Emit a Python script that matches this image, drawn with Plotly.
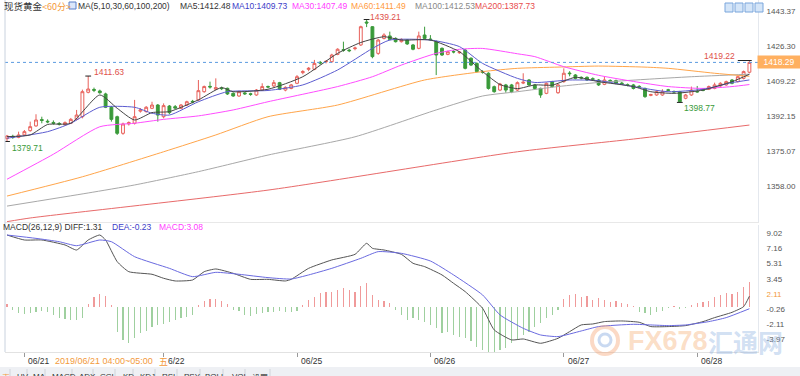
import plotly.graph_objects as go

W, H = 800, 376

# ---------------- data ----------------
idx = list(range(129))
ohlc = [
    (1381.1, 1382.9, 1379.71, 1382.4), (1382.2, 1383.0, 1381.0, 1381.8), (1381.75, 1384.5, 1381.3, 1382.9),
    (1382.9, 1385.3, 1382.4, 1384.5), (1385.0, 1389.4, 1384.5, 1386.95), (1387.3, 1393.0, 1386.9, 1390.2),
    (1390.4, 1391.8, 1388.6, 1390.0), (1389.6, 1390.5, 1388.6, 1389.3), (1389.0, 1390.0, 1388.0, 1388.6),
    (1388.5, 1389.2, 1387.5, 1388.2), (1387.9, 1389.5, 1387.5, 1388.9), (1388.6, 1391.2, 1388.2, 1390.5),
    (1390.5, 1395.1, 1390.0, 1392.6), (1391.8, 1405.0, 1391.0, 1404.0), (1403.7, 1411.63, 1403.2, 1405.3),
    (1405.1, 1406.0, 1403.8, 1404.7), (1404.35, 1405.0, 1403.0, 1403.5), (1402.9, 1403.5, 1396.0, 1396.4),
    (1396.4, 1397.0, 1389.4, 1390.5), (1391.8, 1392.3, 1382.9, 1383.7), (1383.7, 1388.9, 1383.0, 1388.25),
    (1388.3, 1389.5, 1387.5, 1388.9), (1388.6, 1400.0, 1388.0, 1391.8), (1394.5, 1396.0, 1393.8, 1395.1),
    (1394.3, 1397.0, 1393.8, 1396.4), (1395.9, 1399.1, 1395.5, 1397.5), (1397.5, 1398.0, 1389.4, 1392.6),
    (1391.8, 1398.3, 1391.0, 1397.2), (1397.0, 1397.5, 1393.0, 1393.8), (1396.7, 1397.5, 1395.5, 1396.0),
    (1395.9, 1398.0, 1395.5, 1397.5), (1397.5, 1399.6, 1397.0, 1399.1), (1399.3, 1400.0, 1398.3, 1399.0),
    (1400.0, 1409.7, 1399.5, 1404.5), (1404.0, 1407.0, 1403.5, 1406.5), (1406.6, 1408.9, 1405.5, 1406.3),
    (1405.2, 1410.5, 1404.8, 1406.0), (1405.8, 1406.5, 1404.8, 1405.5), (1405.65, 1406.0, 1402.4, 1402.9),
    (1403.2, 1403.7, 1401.5, 1401.9), (1401.9, 1404.5, 1401.5, 1404.0), (1403.4, 1404.0, 1402.4, 1403.0),
    (1403.0, 1403.5, 1402.0, 1402.7), (1402.4, 1405.3, 1402.0, 1404.8), (1404.8, 1408.1, 1404.5, 1406.5),
    (1406.5, 1407.0, 1405.8, 1406.3), (1406.8, 1409.7, 1406.3, 1408.4), (1408.4, 1408.8, 1404.8, 1405.2),
    (1404.8, 1406.6, 1404.2, 1406.1), (1405.6, 1407.8, 1405.2, 1407.3), (1408.1, 1412.1, 1407.7, 1411.3),
    (1413.3, 1414.5, 1412.5, 1413.8), (1414.9, 1416.0, 1414.0, 1415.4), (1414.9, 1419.5, 1414.5, 1417.8),
    (1418.3, 1419.0, 1417.2, 1418.0), (1418.6, 1419.3, 1417.8, 1418.8), (1418.65, 1422.5, 1418.0, 1421.9),
    (1422.2, 1425.2, 1421.8, 1424.7), (1424.5, 1428.4, 1423.5, 1424.2), (1424.3, 1425.0, 1423.3, 1424.0),
    (1425.0, 1426.0, 1424.2, 1425.3), (1426.8, 1436.2, 1426.3, 1435.7), (1438.0, 1439.21, 1435.5, 1437.5),
    (1435.7, 1436.0, 1420.3, 1421.1), (1422.7, 1429.7, 1422.0, 1429.2), (1430.0, 1432.5, 1429.5, 1431.65),
    (1431.2, 1433.3, 1429.0, 1429.5), (1430.0, 1430.5, 1428.0, 1428.4), (1428.4, 1430.0, 1428.0, 1429.5),
    (1429.2, 1429.7, 1426.8, 1427.3), (1426.8, 1427.3, 1424.2, 1424.7), (1425.15, 1433.3, 1424.7, 1431.2),
    (1431.65, 1435.7, 1429.5, 1430.0), (1429.7, 1431.6, 1428.8, 1429.4), (1428.4, 1429.0, 1412.1, 1421.9),
    (1425.15, 1425.6, 1421.4, 1421.9), (1422.2, 1424.0, 1421.8, 1423.5), (1423.6, 1424.3, 1422.7, 1423.4),
    (1423.0, 1423.8, 1422.5, 1423.3), (1424.3, 1424.8, 1414.9, 1415.4), (1420.3, 1420.8, 1416.5, 1417.0),
    (1417.8, 1418.3, 1413.3, 1413.8), (1413.8, 1414.5, 1412.8, 1413.5), (1413.0, 1413.5, 1405.0, 1405.6),
    (1406.45, 1407.0, 1403.5, 1404.0), (1404.8, 1408.3, 1404.3, 1407.75), (1407.3, 1407.8, 1403.5, 1404.8),
    (1407.3, 1407.8, 1403.3, 1404.0), (1404.8, 1409.0, 1404.3, 1408.4), (1408.2, 1413.0, 1407.7, 1408.6),
    (1409.7, 1410.2, 1406.8, 1407.3), (1407.3, 1407.8, 1405.2, 1405.6), (1405.6, 1406.0, 1401.0, 1402.4),
    (1403.2, 1408.5, 1402.8, 1408.1), (1408.9, 1409.3, 1406.0, 1406.5), (1403.5, 1407.8, 1403.0, 1407.3),
    (1408.9, 1415.4, 1408.4, 1413.0), (1413.1, 1414.0, 1411.5, 1412.8), (1412.15, 1412.6, 1410.0, 1410.5),
    (1411.0, 1411.5, 1410.0, 1410.7), (1411.0, 1411.5, 1409.2, 1409.7), (1410.3, 1411.0, 1409.5, 1410.1),
    (1409.7, 1410.2, 1406.8, 1407.3), (1407.6, 1411.3, 1407.2, 1409.7), (1409.5, 1410.0, 1408.5, 1409.2),
    (1409.4, 1409.9, 1407.6, 1408.1), (1408.2, 1408.8, 1407.3, 1407.9), (1407.4, 1408.0, 1406.6, 1407.1),
    (1407.3, 1407.8, 1405.1, 1405.6), (1406.6, 1407.2, 1405.8, 1406.3), (1405.6, 1406.0, 1401.0, 1401.6),
    (1402.2, 1403.0, 1401.8, 1402.6), (1402.4, 1404.5, 1402.0, 1404.0), (1402.4, 1405.2, 1402.0, 1404.0),
    (1404.9, 1405.4, 1404.2, 1404.7), (1404.1, 1404.6, 1403.4, 1403.9), (1404.0, 1404.4, 1398.77, 1399.1),
    (1400.8, 1402.9, 1400.3, 1402.4), (1402.4, 1406.5, 1402.0, 1404.8), (1404.1, 1406.8, 1403.5, 1403.9),
    (1404.9, 1405.6, 1404.2, 1404.7), (1405.15, 1407.0, 1404.8, 1406.5), (1405.6, 1408.4, 1405.2, 1407.3),
    (1406.8, 1408.6, 1406.4, 1408.1), (1407.3, 1409.4, 1406.9, 1408.9), (1409.7, 1410.2, 1407.6, 1408.1),
    (1408.9, 1411.8, 1408.5, 1411.3), (1410.5, 1414.3, 1410.0, 1413.8), (1413.5, 1419.22, 1413.0, 1418.29),
]
opens = [r[0] for r in ohlc]
highs = [r[1] for r in ohlc]
lows = [r[2] for r in ohlc]
closes = [r[3] for r in ohlc]

ma5_x = [0, 4, 7, 11, 16, 19, 22, 25, 28, 33, 37, 39, 45, 51, 57, 61, 65, 68, 73, 78, 82, 85, 88, 91, 94, 98, 102, 108, 111, 115, 120, 125, 128]
ma5_y = [1382.1, 1382.9, 1388.0, 1388.6, 1402.4, 1395.9, 1390.2, 1393.8, 1394.3, 1400.0, 1406.0, 1404.0, 1405.2, 1411.3,
         1422.7, 1428.0, 1430.8, 1429.2, 1429.2, 1423.5, 1413.8, 1407.5, 1405.5, 1407.3, 1407.2, 1411.0, 1408.9, 1406.5,
         1404.0, 1403.2, 1404.8, 1408.9, 1412.48]
ma10_x = [0, 7, 11, 16, 22, 25, 28, 33, 38, 45, 51, 57, 63, 66, 73, 78, 82, 88, 91, 97, 102, 108, 114, 120, 125, 128]
ma10_y = [1381.3, 1384.5, 1388.6, 1396.4, 1396.4, 1393.5, 1392.6, 1399.1, 1404.0, 1404.6, 1407.3, 1414.6, 1425.1, 1429.2,
          1429.2, 1426.0, 1417.8, 1410.5, 1408.5, 1409.7, 1409.4, 1406.5, 1404.0, 1405.2, 1408.4, 1409.73]
ma30_x = [0, 8, 16, 22, 27, 33, 39, 45, 57, 63, 68, 74, 78, 82, 88, 91, 96, 102, 108, 114, 120, 125, 128]
ma30_y = [1361.3, 1373.5, 1386.9, 1388.6, 1390.5, 1392.2, 1395.1, 1399.1, 1406.5, 1411.3, 1417.0, 1422.7, 1424.7, 1425.1,
          1422.5, 1421.1, 1416.2, 1412.0, 1409.0, 1406.5, 1405.6, 1406.5, 1407.49]
ma60_x = [0, 13, 27, 36, 45, 57, 72, 82, 88, 95, 102, 110, 114, 122, 128]
ma60_y = [1353.1, 1362.5, 1374.7, 1382.9, 1391.8, 1397.5, 1409.7, 1413.8, 1415.4, 1416.0, 1416.5, 1416.0, 1415.4, 1413.0, 1411.49]
ma100_x = [0, 14, 22, 33, 45, 60, 74, 82, 88, 95, 102, 110, 118, 128]
ma100_y = [1348.2, 1354.6, 1358.5, 1365.0, 1373.1, 1382.0, 1395.1, 1401.9, 1404.0, 1406.5, 1408.5, 1410.0, 1411.3, 1412.53]
ma200_x = [0, 4, 45, 88, 108, 128]
ma200_y = [1340.6, 1342.4, 1356.0, 1374.7, 1380.9, 1387.73]

diff_x = [0, 3, 6, 10, 12, 14, 16, 17, 19, 21, 25, 27, 29, 32, 34, 36, 39, 42, 45, 48, 49, 52, 56, 60, 62, 63, 65, 68,
          70, 72, 75, 77, 79, 82, 84, 87, 89, 92, 95, 97, 99, 101, 103, 106, 109, 111, 114, 117, 120, 122, 125, 127, 128]
diff_y = [8.82, 8.21, 8.21, 7.60, 6.98, 8.21, 8.82, 8.21, 5.55, 4.32, 4.0, 3.51, 3.18, 3.30, 4.32, 4.65, 4.12, 3.38,
          3.38, 3.18, 3.38, 4.73, 5.76, 6.45, 7.8, 7.19, 6.98, 6.45, 5.35, 4.94, 3.92, 2.89, 1.87, -0.18, -2.83, -4.06,
          -3.94, -4.47, -3.86, -3.04, -2.22, -2.10, -1.81, -1.73, -1.89, -2.42, -2.42, -2.30, -1.81, -1.32, -0.67, 0.03, 1.31]
dea_x = [0, 5, 9, 12, 16, 18, 22, 28, 32, 36, 40, 45, 49, 52, 56, 61, 64, 68, 73, 77, 82, 85, 89, 92, 95, 99, 102, 108,
         111, 114, 117, 121, 124, 128]
dea_y = [8.82, 8.41, 8.0, 7.51, 8.21, 8.0, 6.16, 4.73, 3.71, 4.24, 4.0, 3.59, 3.42, 3.92, 4.73, 5.96, 6.78, 6.57, 5.63,
         3.92, 1.46, -0.99, -2.63, -3.45, -3.65, -2.96, -2.42, -2.14, -2.22, -2.30, -2.22, -1.81, -1.32, -0.23]
macd_hist = [0.37, -0.37, -0.78, -0.90, -0.78, -0.65, -0.49, -0.65, -0.98, -1.31, -1.47, -1.60, -1.60, -1.39, 0.33,
             1.27, 1.55, 1.35, 0.25, -3.03, -4.05, -4.46, -3.84, -3.23, -2.94, -2.41, -2.21, -2.13, -1.88, -1.60,
             -1.39, -1.19, -0.98, 0.25, 0.74, 0.98, 0.98, 0.74, 0.33, -0.37, -0.49, -0.98, -1.06, -0.90, -0.78,
             -0.65, -0.65, -0.49, -0.57, -0.65, -0.49, 0.25, 0.86, 1.27, 1.68, 1.80, 1.88, 2.09, 2.29, 2.09, 1.88,
             2.62, 2.90, 1.47, 0.86, 0.74, 0.45, -0.37, -0.98, -1.60, -1.39, -1.60, -1.80, -2.21, -2.62, -3.23,
             -3.03, -3.44, -3.64, -3.84, -4.25, -4.87, -5.28, -5.69, -5.89, -5.28, -5.07, -4.46, -4.05, -3.44,
             -3.03, -2.41, -2.00, -1.39, -0.98, -0.37, 0.98, 1.47, 1.55, 1.27, 1.39, 0.86, 1.06, 0.86, 0.65, 0.74,
             0.45, 0.33, 0.16, -0.57, -0.78, -0.98, -0.65, -0.49, -0.16, 0.12, -0.25, -0.16, 0.25, 0.45, 0.65,
             0.74, 1.27, 1.47, 1.68, 1.55, 1.88, 2.49, 3.08]

day_ticks = [3, 27, 50, 73, 96, 119]
day_labels = ["06/21", "6/22", "06/25", "06/26", "06/27", "06/28"]
price_ticks = [1443.37, 1426.30, 1409.22, 1392.15, 1375.07, 1358.00]
macd_ticks = [9.02, 7.16, 5.31, 3.45, 1.60, -0.26, -2.11, -3.97]
macd_labels = ["9.02", "7.16", "5.31", "3.45", "<span style='color:#f39a3c'>2.11</span>", "-0.26", "-2.11", "-3.97"]
last_price = 1418.29
high_marks = [14, 62, 128]
low_marks = [0, 116]

# ---------------- helpers ----------------
def px(x):
    return x / W

def py(y):
    return 1 - y / H

SANS = "Liberation Sans, Arial, sans-serif"
CJK = "Noto Sans CJK SC, sans-serif"
RED = "#e8605a"
GREEN = "#3a9a3a"

fig = go.Figure()

fig.add_trace(go.Candlestick(
    x=idx, open=opens, high=highs, low=lows, close=closes,
    increasing=dict(line=dict(color=RED, width=1), fillcolor="#ffffff"),
    decreasing=dict(line=dict(color=GREEN, width=1), fillcolor=GREEN),
    whiskerwidth=0, xaxis="x", yaxis="y", hoverinfo="skip", showlegend=False))

for xs, ys, col in [(ma200_x, ma200_y, "#e86a6a"), (ma100_x, ma100_y, "#a8a8a8"), (ma60_x, ma60_y, "#ffa54a"),
                    (ma30_x, ma30_y, "#ff4cff"), (ma10_x, ma10_y, "#5c5cd0"), (ma5_x, ma5_y, "#444444")]:
    fig.add_trace(go.Scatter(x=xs, y=ys, mode="lines", line=dict(color=col, width=1, shape="spline", smoothing=0.6),
                             xaxis="x", yaxis="y", hoverinfo="skip", showlegend=False))

bar_cols = ["#f09a9a" if v >= 0 else "#9fd09f" for v in macd_hist]
fig.add_trace(go.Bar(x=idx, y=macd_hist, width=0.2, marker=dict(color=bar_cols, line=dict(width=0)),
                     xaxis="x2", yaxis="y2", hoverinfo="skip", showlegend=False))
fig.add_trace(go.Scatter(x=diff_x, y=diff_y, mode="lines", line=dict(color="#555555", width=1, shape="spline", smoothing=0.5),
                         xaxis="x2", yaxis="y2", hoverinfo="skip", showlegend=False))
fig.add_trace(go.Scatter(x=dea_x, y=dea_y, mode="lines", line=dict(color="#6a6ae0", width=1, shape="spline", smoothing=0.5),
                         xaxis="x2", yaxis="y2", hoverinfo="skip", showlegend=False))

xdom = [px(5), px(758)]
xr = [-0.345, 129.48]
common_x = dict(domain=xdom, range=xr, showgrid=False, zeroline=False, fixedrange=True)

annotations = []
shapes = []

def txt(x, y, s, color="#333", size=8.5, family=SANS, xanchor="left", **kw):
    annotations.append(dict(x=px(x), y=py(y), xref="paper", yref="paper", text=s, showarrow=False,
                            xanchor=xanchor, yanchor="middle", font=dict(family=family, size=size, color=color), **kw))

# header
txt(2, 6.5, "现货黄金", "#333", 9.5, CJK)
txt(40, 6.5, "<60分>", "#f39a3c", 9, CJK)
shapes.append(dict(type="rect", xref="paper", yref="paper", x0=px(69), x1=px(76), y0=py(9), y1=py(2),
                   line=dict(color="#5b7fc8", width=1), fillcolor="#dbe7fb"))
txt(76, 5.5, "MA(5,10,30,60,100,200)", "#333")
txt(178, 5.5, "MA5:1412.48", "#333")
txt(230, 5.5, "MA10:1409.73", "#3c3cc8")
txt(290, 5.5, "MA30:1407.49", "#ff3cff")
txt(349, 5.5, "MA60:1411.49", "#ff9a3c")
txt(413, 5.5, "MA100:1412.53", "#888888")
txt(473, 5.5, "MA200:1387.73", "#e84c4c")
for k in range(4):
    shapes.append(dict(type="rect", xref="paper", yref="paper", x0=px(725 + 10 * k), x1=px(733 + 10 * k),
                       y0=py(12), y1=py(3), line=dict(color="#7aa6dc", width=1), fillcolor="#d4e5f8"))

# MACD header
txt(1, 227, "MACD(26,12,9) DIFF:1.31", "#333")
txt(110, 227, "DEA:-0.23", "#3c3cc8")
txt(157, 227, "MACD:3.08", "#ff3cff")

# current price line and box
shapes.append(dict(type="line", xref="paper", yref="y", x0=px(5), x1=px(758), y0=last_price, y1=last_price,
                   line=dict(color="#5b9be0", width=1, dash="dot")))
annotations.append(dict(x=px(757), y=last_price, xref="paper", yref="y", text=f"{last_price:.2f}", showarrow=False,
                        xanchor="left", yanchor="middle", bgcolor="#ffb060", borderpad=1, width=40,
                        font=dict(family=SANS, size=8.5, color="#ffffff")))

# extreme labels
offs_hi = {14: (4, 4, "left"), 62: (1, 3, "left"), 128: (-12, 5, "right")}
for i in high_marks:
    dx, dy, anc = offs_hi[i]
    annotations.append(dict(x=i, y=highs[i], xref="x", yref="y", text=f"{highs[i]:.2f}", showarrow=False,
                            xanchor=anc, yanchor="middle", xshift=dx, yshift=dy,
                            font=dict(family=SANS, size=8.5, color="#e0504a")))
    shapes.append(dict(type="line", xref="x", yref="y", x0=i - 0.5 if i != 128 else i - 2, x1=i + 0.5 if i != 128 else i + 0.4,
                       y0=highs[i], y1=highs[i], line=dict(color="#222", width=1)))
offs_lo = {0: (3, -7), 116: (2, -6)}
for i in low_marks:
    dx, dy = offs_lo[i]
    annotations.append(dict(x=i, y=lows[i], xref="x", yref="y", text=f"{lows[i]:.2f}", showarrow=False,
                            xanchor="left", yanchor="middle", xshift=dx, yshift=dy,
                            font=dict(family=SANS, size=8.5, color="#3a9a3a")))
    shapes.append(dict(type="line", xref="x", yref="y", x0=i - 0.5, x1=i + 0.5,
                       y0=lows[i], y1=lows[i], line=dict(color="#222", width=1)))

# left border line
shapes.append(dict(type="line", xref="paper", yref="paper", x0=px(5), x1=px(5), y0=py(352), y1=py(0),
                   line=dict(color="#c9d2de", width=1)))

# date labels
for t, lab in zip(day_ticks, day_labels):
    annotations.append(dict(x=t, y=py(361), xref="x2", yref="paper", text=lab, showarrow=False, xanchor="left",
                            yanchor="middle", xshift=2, font=dict(family=SANS, size=8.5, color="#333")))
txt(53, 361, "2019/06/21 04:00~05:00", "#f39a3c", 9, SANS)
txt(157, 361, "五", "#f39a3c", 9, CJK)

# bottom tab bar
shapes.append(dict(type="rect", xref="paper", yref="paper", x0=0, x1=1, y0=0, y1=py(367),
                   line=dict(width=0), fillcolor="#eef0f4", layer="below"))
tabs = [("表", 0, "#f39a3c"), ("HV", 15, "#333"), ("MA", 31, "#333"), ("MACD", 50, "#333"), ("ADX", 77, "#333"),
        ("CCI", 98, "#333"), ("KD", 121, "#333"), ("KDJ", 138, "#333"), ("RSI", 160, "#333"), ("PSY", 182, "#333"),
        ("BOLL", 203, "#333"), ("VOL", 230, "#333"), ("设置", 250, "#333")]
for s, x, c in tabs:
    annotations.append(dict(x=px(x), y=py(370), xref="paper", yref="paper", text=s, showarrow=False, xanchor="left",
                            yanchor="top", font=dict(family=SANS if s.isascii() else CJK, size=8, color=c)))
for x in [10, 27, 45, 72, 93, 115, 133, 155, 177, 200, 223, 245, 270]:
    shapes.append(dict(type="line", xref="paper", yref="paper", x0=px(x), x1=px(x), y0=0, y1=py(369),
                       line=dict(color="#d0d4da", width=1)))

# watermark
shapes.append(dict(type="circle", xref="paper", yref="paper", x0=px(592), x1=px(618), y0=py(354), y1=py(327),
                   line=dict(color="rgba(245,160,110,0.4)", width=4)))
shapes.append(dict(type="circle", xref="paper", yref="paper", x0=px(599), x1=px(611), y0=py(346), y1=py(334),
                   line=dict(color="rgba(120,160,220,0.4)", width=3)))
txt(626, 341, "<b>FX678</b>", "rgba(246,170,110,0.4)", 27, "Liberation Sans")
txt(706, 341, "<b>汇通网</b>", "rgba(140,175,225,0.4)", 25, CJK)

fig.update_layout(
    width=W, height=H, margin=dict(l=0, r=0, t=0, b=0), paper_bgcolor="#ffffff", plot_bgcolor="#ffffff",
    showlegend=False, bargap=0, hovermode=False,
    xaxis=dict(**common_x, anchor="y", showticklabels=False, ticks="", showline=True, linecolor="#e8e8e8",
               rangeslider=dict(visible=False)),
    xaxis2=dict(**common_x, anchor="y2", showticklabels=False, ticks="outside", ticklen=4, tickcolor="#999",
                tickvals=day_ticks, showline=True, linecolor="#e2e2e2"),
    yaxis=dict(domain=[py(222), 1], range=[1340.44, 1448.73], side="right", tickvals=price_ticks,
               ticktext=[f"{v:.2f}" for v in price_ticks], showgrid=False, zeroline=False, ticks="",
               tickfont=dict(family=SANS, size=8, color="#555"), showline=True, linecolor="#e4e8ee",
               ticklabelstandoff=6, fixedrange=True),
    yaxis2=dict(domain=[py(352), py(225)], range=[-5.54, 10.05], side="right", tickvals=macd_ticks,
                ticktext=macd_labels, showgrid=False, zeroline=False, ticks="",
                tickfont=dict(family=SANS, size=8, color="#555"), showline=True, linecolor="#e4e8ee",
                ticklabelstandoff=6, fixedrange=True),
    annotations=annotations, shapes=shapes,
)

fig.write_html("out.html", config={"displayModeBar": False, "staticPlot": True},
               post_script="document.body.style.margin='0';document.body.style.overflow='hidden';")
